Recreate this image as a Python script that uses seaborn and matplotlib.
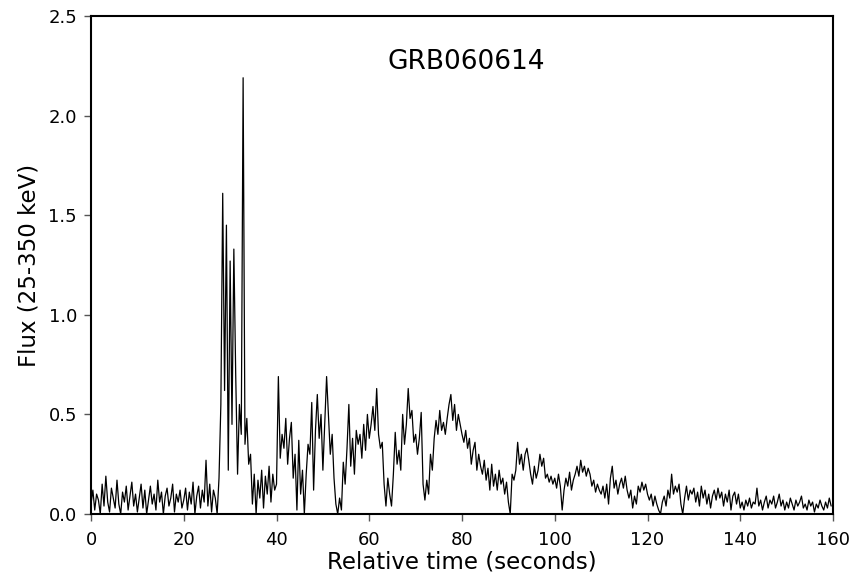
import numpy as np
import pandas as pd
import matplotlib
matplotlib.use("Agg")
import matplotlib.pyplot as plt
import seaborn as sns

# time grid: 0.4 s bins starting at 0
t_start, t_step = 0.0, 0.4

seg_000 = [0.05,0.12,0.02,0.10,0.07,0.00,0.15,0.04,0.19,0.06,0.01,0.13,0.08,0.03,0.17,0.05,0.00,0.11,0.06,0.14,0.02,0.09,0.16,0.04,0.10]
seg_010 = [0.01,0.08,0.15,0.03,0.12,0.00,0.07,0.14,0.05,0.10,0.02,0.17,0.06,0.11,0.00,0.09,0.13,0.04,0.08,0.15,0.01,0.10,0.06,0.12,0.03]
seg_020 = [0.07,0.13,0.02,0.11,0.05,0.16,0.00,0.09,0.14,0.03,0.12,0.06,0.27,0.04,0.15,0.01,0.12,0.08,0.00,0.18,0.55,1.61,0.62,1.45,0.22]
seg_030 = [1.27,0.45,1.33,0.70,0.20,0.55,0.40,2.19,0.35,0.48,0.25,0.30,0.05,0.20,0.00,0.17,0.08,0.22,0.03,0.19,0.10,0.24,0.06,0.20,0.12]
seg_040 = [0.15,0.69,0.28,0.40,0.33,0.48,0.25,0.38,0.46,0.18,0.30,0.02,0.37,0.10,0.22,0.00,0.20,0.35,0.30,0.56,0.12,0.42,0.60,0.38,0.50]
seg_050 = [0.22,0.45,0.69,0.50,0.30,0.40,0.18,0.05,0.00,0.08,0.02,0.26,0.15,0.33,0.55,0.24,0.38,0.20,0.42,0.35,0.40,0.28,0.45,0.32,0.50]
seg_060 = [0.38,0.45,0.54,0.42,0.63,0.40,0.33,0.36,0.15,0.04,0.18,0.10,0.04,0.20,0.41,0.25,0.32,0.22,0.50,0.35,0.45,0.63,0.48,0.52,0.36]
seg_070 = [0.40,0.30,0.38,0.51,0.15,0.07,0.17,0.10,0.30,0.22,0.38,0.47,0.40,0.52,0.42,0.46,0.40,0.48,0.55,0.60,0.47,0.55,0.42,0.50,0.45]
seg_080 = [0.40,0.36,0.42,0.33,0.38,0.25,0.32,0.36,0.22,0.30,0.24,0.20,0.27,0.17,0.23,0.12,0.25,0.14,0.20,0.12,0.22,0.15,0.18,0.10,0.16]
seg_090 = [0.06,0.00,0.20,0.17,0.22,0.36,0.25,0.30,0.22,0.30,0.33,0.27,0.20,0.15,0.24,0.18,0.22,0.30,0.24,0.28,0.18,0.20,0.16,0.19,0.15]
seg_100 = [0.18,0.13,0.20,0.14,0.02,0.12,0.18,0.14,0.21,0.12,0.17,0.20,0.24,0.19,0.27,0.21,0.24,0.19,0.23,0.20,0.14,0.17,0.11,0.15,0.12]
seg_110 = [0.10,0.14,0.08,0.15,0.05,0.18,0.24,0.13,0.17,0.10,0.15,0.18,0.13,0.19,0.12,0.08,0.12,0.03,0.09,0.05,0.14,0.11,0.16,0.12,0.15]
seg_120 = [0.10,0.07,0.10,0.04,0.09,0.05,0.02,0.00,0.06,0.09,0.04,0.12,0.08,0.20,0.10,0.14,0.11,0.15,0.05,0.00,0.08,0.14,0.07,0.12,0.10]
seg_130 = [0.13,0.06,0.11,0.04,0.14,0.08,0.12,0.05,0.10,0.03,0.09,0.12,0.07,0.13,0.08,0.11,0.04,0.10,0.06,0.12,0.02,0.09,0.11,0.05,0.10]
seg_140 = [0.03,0.06,0.02,0.07,0.04,0.08,0.03,0.06,0.05,0.13,0.04,0.07,0.02,0.06,0.09,0.03,0.07,0.05,0.09,0.03,0.06,0.10,0.04,0.07,0.02]
seg_150 = [0.06,0.03,0.08,0.05,0.02,0.07,0.04,0.06,0.09,0.03,0.05,0.02,0.07,0.04,0.06,0.01,0.05,0.03,0.07,0.04,0.02,0.06,0.03,0.08,0.04]

x_ticks = [0, 20, 40, 60, 80, 100, 120, 140, 160]
y_ticks = [0.0, 0.5, 1.0, 1.5, 2.0, 2.5]
title_text = "GRB060614"
x_label = "Relative time (seconds)"
y_label = "Flux (25-350 keV)"

flux = (seg_000 + seg_010 + seg_020 + seg_030 + seg_040 + seg_050 + seg_060 + seg_070 +
        seg_080 + seg_090 + seg_100 + seg_110 + seg_120 + seg_130 + seg_140 + seg_150)
time = t_start + t_step * np.arange(len(flux))
df = pd.DataFrame({"time": time, "flux": flux})

sns.set_style("white")
plt.rcParams["font.family"] = ["DejaVu Sans"]
plt.rcParams["text.color"] = "black"
plt.rcParams["axes.labelcolor"] = "black"
plt.rcParams["xtick.color"] = "black"
plt.rcParams["ytick.color"] = "black"

fig = plt.figure(figsize=(8.57, 5.78), dpi=100)
ax = fig.add_axes([0.1062, 0.1107, 0.972 - 0.1062, 0.9723 - 0.1107])
sns.lineplot(data=df, x="time", y="flux", ax=ax, color="black", linewidth=0.9, estimator=None)

ax.set_xlim(0, 160)
ax.set_ylim(0, 2.5)
ax.set_xticks(x_ticks)
ax.set_xticklabels([str(v) for v in x_ticks])
ax.set_yticks(y_ticks)
ax.set_yticklabels([f"{v:.1f}" for v in y_ticks])
ax.tick_params(axis="both", direction="out", length=5, width=1, color="#555555",
               labelsize=13, labelcolor="black", bottom=True, left=True)
ax.tick_params(axis="x", pad=7)
ax.tick_params(axis="y", pad=5)
for s in ax.spines.values():
    s.set_color("black")
    s.set_linewidth(1.5)
ax.set_xlabel(x_label, fontsize=16.5, labelpad=1, color="black")
ax.set_ylabel(y_label, fontsize=16.5, labelpad=6, color="black")
ax.text(81, 2.27, title_text, ha="center", va="center", fontsize=19, color="black")

fig.savefig("out.png", dpi=100)
